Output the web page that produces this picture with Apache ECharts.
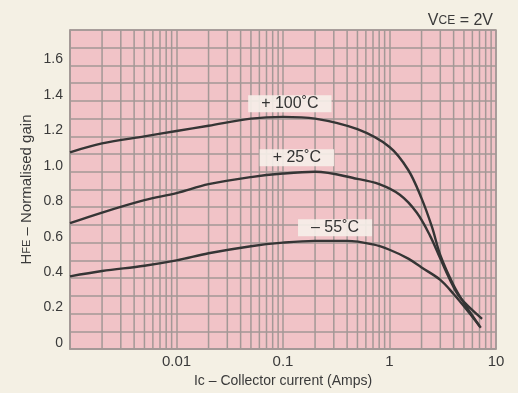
<!DOCTYPE html>
<html>
<head>
<meta charset="utf-8">
<script src="https://cdn.jsdelivr.net/npm/echarts@6/dist/echarts.min.js"></script>
<style>
html,body{margin:0;padding:0;background:#f4f0e4;}
#c{width:518px;height:393px;}
</style>
</head>
<body>
<div id="c"></div>
<script>
// Collector current (A)
const current100 = [0.001, 0.002, 0.005, 0.01, 0.02, 0.05, 0.1, 0.2, 0.5, 1.0, 1.5, 2.0, 2.5, 3.0, 4.0, 5.0, 7.0];
const gain100    = [1.11, 1.16, 1.20, 1.23, 1.26, 1.30, 1.31, 1.30, 1.24, 1.14, 1.01, 0.85, 0.69, 0.53, 0.36, 0.26, 0.13];
const current25  = [0.001, 0.002, 0.005, 0.01, 0.02, 0.05, 0.1, 0.2, 0.5, 0.8, 1.25, 1.8, 2.4, 3.0, 3.7, 4.6, 7.4];
const gain25     = [0.71, 0.77, 0.84, 0.88, 0.93, 0.97, 0.99, 1.00, 0.96, 0.93, 0.87, 0.77, 0.64, 0.51, 0.39, 0.29, 0.17];
const currentM55 = [0.001, 0.002, 0.005, 0.01, 0.02, 0.05, 0.1, 0.2, 0.4, 0.7, 1.0, 1.5, 2.0, 3.0, 4.0, 5.5, 7.2];
const gainM55    = [0.41, 0.44, 0.47, 0.50, 0.54, 0.58, 0.60, 0.61, 0.61, 0.59, 0.56, 0.51, 0.46, 0.39, 0.31, 0.21, 0.12];
const seriesNames = ['+ 100˚C', '+ 25˚C', '– 55˚C'];
const labelAt = [[0.116, 1.384], [0.135, 1.079], [0.308, 0.684]];
const minorX = [0.002,0.003,0.004,0.005,0.006,0.007,0.008,0.009,
                0.02,0.03,0.04,0.05,0.06,0.07,0.08,0.09,
                0.2,0.3,0.4,0.5,0.6,0.7,0.8,0.9,
                2,3,4,5,6,7,8,9];
const xTickLabels = {0.01:'0.01', 0.1:'0.1', 1:'1', 10:'10'};
const yMin = 0, yMax = 1.8;

const gridColor = '#a39896';
const curveColor = '#353535';
const txt = '#3a3a3a';
const font = 'Liberation Sans, Arial, sans-serif';

function pairs(xs, ys){ return xs.map((x,i)=>[x, ys[i]]); }

function curve(name, data, pos){
  return {
    type:'line', name, data, smooth:0.35, showSymbol:false, symbol:'none',
    lineStyle:{color:curveColor, width:2.4}, z:5,
    markPoint:{
      silent:true, symbol:'rect', symbolSize:[2,2], itemStyle:{color:'rgba(0,0,0,0)'},
      z:10,
      data:[{coord:pos, value:name, name:name}],
      label:{show:true, position:'inside', formatter:name, color:'#333', fontSize:16,
        fontFamily:font, backgroundColor:'rgba(246,240,233,0.9)', padding:[1,13,0,13]}
    }
  };
}

const chart = echarts.init(document.getElementById('c'), null, {renderer:'canvas'});
chart.setOption({
  backgroundColor:'#f4f0e4',
  animation:false,
  grid:{left:70, right:22, top:30, bottom:44, show:true, backgroundColor:'#f1c3c7', borderColor:gridColor, borderWidth:1.5},
  title:{
    text:'{v|V}{s|CE} = 2V', right:20, top:8,
    textStyle:{fontSize:16, fontWeight:'normal', color:txt, fontFamily:font,
      rich:{v:{fontSize:16, color:txt, fontFamily:font}, s:{fontSize:12, color:txt, fontFamily:font}}}
  },
  xAxis:{
    type:'log', logBase:10, min:0.001, max:10,
    name:'Ic – Collector current (Amps)', nameLocation:'middle', nameGap:25,
    nameTextStyle:{fontSize:14, color:txt, fontFamily:font},
    axisLine:{show:true, lineStyle:{color:gridColor, width:1.5}},
    axisTick:{show:false},
    axisLabel:{color:txt, fontSize:15, fontFamily:font, margin:5,
      formatter:v=>{ for (const k in xTickLabels){ if (Math.abs(Math.log10(v)-Math.log10(+k))<1e-6) return xTickLabels[k]; } return ''; }},
    splitLine:{show:true, lineStyle:{color:gridColor, width:1.5}},
    minorTick:{show:false}, minorSplitLine:{show:false}
  },
  yAxis:{
    type:'value', min:yMin, max:yMax, interval:0.2,
    name:'{h|H}{s|FE} – Normalised gain', nameLocation:'middle', nameGap:36, nameMoveOverlap:false,
    nameTextStyle:{rich:{h:{fontSize:15, color:txt, fontFamily:font}, s:{fontSize:11, color:txt, fontFamily:font}}, fontSize:15, color:txt, fontFamily:font},
    axisLine:{show:true, lineStyle:{color:gridColor, width:1.5}},
    axisTick:{show:false},
    axisLabel:{color:txt, fontSize:14, fontFamily:font, margin:7, verticalAlign:'bottom', lineHeight:12,
      formatter:v=> v>1.75 ? '' : (v===0 ? '0' : v.toFixed(1))},
    splitLine:{show:true, lineStyle:{color:gridColor, width:1.5}},
    minorTick:{show:false, splitNumber:2},
    minorSplitLine:{show:true, lineStyle:{color:gridColor, width:1.5}}
  },
  series:[
    {
      type:'custom', silent:true, z:1, clip:true,
      data:minorX.map(v=>[v]),
      encode:{x:0},
      renderItem:(params, api)=>{
        const v = api.value(0);
        const p0 = api.coord([v, yMin]);
        const p1 = api.coord([v, yMax]);
        return {type:'line', shape:{x1:p0[0], y1:p0[1], x2:p1[0], y2:p1[1]},
          style:{stroke:gridColor, lineWidth:1.5}};
      }
    },
    curve(seriesNames[0], pairs(current100, gain100), labelAt[0]),
    curve(seriesNames[1], pairs(current25, gain25), labelAt[1]),
    curve(seriesNames[2], pairs(currentM55, gainM55), labelAt[2])
  ]
});
</script>
</body>
</html>
